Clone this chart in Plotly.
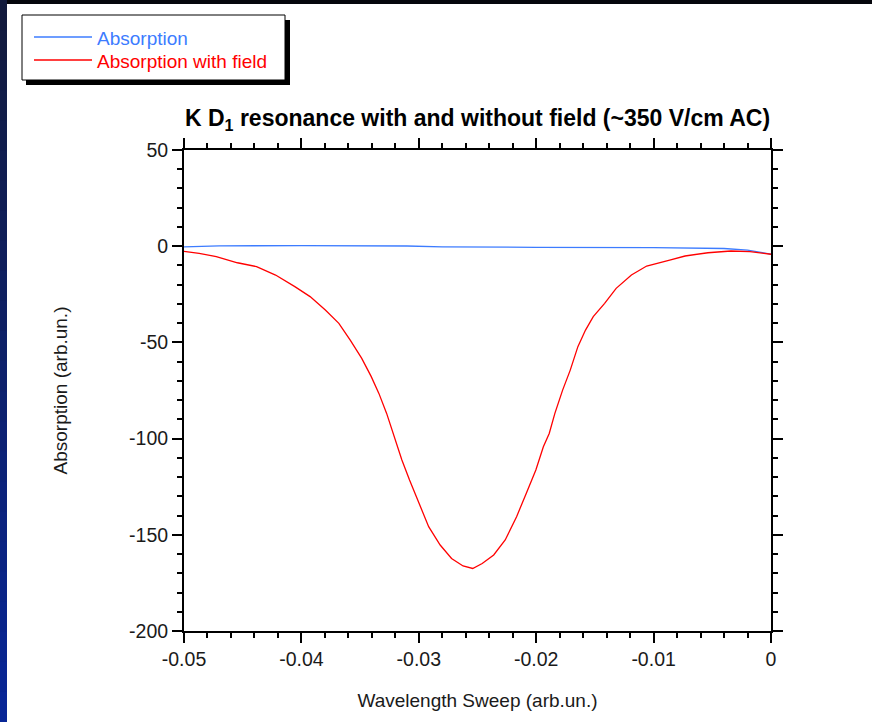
import plotly.graph_objects as go

# ---------------- data ----------------
sweep_no_field = [-0.0500, -0.0470, -0.0400, -0.0330, -0.0310, -0.0280, -0.0240,
                  -0.0200, -0.0100, -0.0060, -0.0040, -0.0020, -0.0010, 0.0]
absorption_no_field = [-0.3, 0.2, 0.3, 0.3, 0.1, -0.3, -0.5,
                       -0.6, -0.7, -0.9, -1.2, -2.0, -3.0, -4.1]

sweep_field = [-0.05000, -0.04985, -0.04871, -0.04725, -0.04545, -0.04382, -0.04220,
               -0.04056, -0.03926, -0.03796, -0.03681, -0.03584, -0.03486, -0.03405,
               -0.03340, -0.03274, -0.03210, -0.03144, -0.03079, -0.02997, -0.02916,
               -0.02818, -0.02721, -0.02623, -0.02541, -0.02460, -0.02362, -0.02264,
               -0.02167, -0.02085, -0.02003, -0.01939, -0.01889, -0.01841, -0.01775,
               -0.01710, -0.01645, -0.01580, -0.01514, -0.01417, -0.01319, -0.01189,
               -0.01059, -0.00863, -0.00732, -0.00537, -0.00341, -0.00179, -0.00016, 0.0]
absorption_field = [-2.7, -2.8, -3.7, -5.4, -8.6, -10.6, -15.0,
                    -21.0, -26.2, -33.2, -40.1, -48.8, -58.3, -67.8,
                    -76.5, -86.9, -99.0, -111.1, -121.5, -133.7, -145.8,
                    -155.3, -162.3, -166.2, -167.5, -164.9, -160.5, -152.7,
                    -140.6, -128.5, -116.3, -104.2, -97.3, -86.9, -74.8,
                    -64.4, -52.2, -43.6, -36.6, -29.7, -21.9, -15.0,
                    -10.3, -7.2, -5.1, -3.4, -2.5, -2.8, -4.1, -4.2]

series_names = ["Absorption", "Absorption with field"]
series_colors = ["#3d7cff", "#ff0000"]

x_tick_vals = [-0.05, -0.04, -0.03, -0.02, -0.01, 0.0]
x_tick_labels = ["-0.05", "-0.04", "-0.03", "-0.02", "-0.01", "0"]
y_tick_vals = [50, 0, -50, -100, -150, -200]
y_tick_labels = ["50", "0", "-50", "-100", "-150", "-200"]

title_text = "K D<sub>1</sub> resonance with and without field (~350 V/cm AC)"
x_title = "Wavelength Sweep (arb.un.)"
y_title = "Absorption (arb.un.)"

# ---------------- layout geometry ----------------
W, H = 872, 722
L, R, T, B = 184, 101, 150, 91
PW, PH = W - L - R, H - T - B


def xp(px):
    return (px - L) / PW


def yp(py):
    return (H - B - py) / PH


FONT = "Liberation Sans, Arial, sans-serif"

fig = go.Figure()
fig.add_trace(go.Scatter(x=sweep_no_field, y=absorption_no_field, mode="lines",
                         name=series_names[0],
                         line=dict(color=series_colors[0], width=1.3)))
fig.add_trace(go.Scatter(x=sweep_field, y=absorption_field, mode="lines",
                         name=series_names[1],
                         line=dict(color=series_colors[1], width=1.3)))

shapes = []
# dark slide background strips
shapes.append(dict(type="rect", xref="paper", yref="paper",
                   x0=xp(0), x1=xp(W), y0=yp(0), y1=yp(4),
                   fillcolor="#05060c", line=dict(width=0)))
n_seg = 24
c_top = (18, 26, 60)
c_bot = (8, 38, 150)
for i in range(n_seg):
    t = i / (n_seg - 1)
    col = "rgb(%d,%d,%d)" % tuple(round(a + (b - a) * t) for a, b in zip(c_top, c_bot))
    shapes.append(dict(type="rect", xref="paper", yref="paper",
                       x0=xp(0), x1=xp(7),
                       y0=yp(H * i / n_seg), y1=yp(H * (i + 1) / n_seg + 1),
                       fillcolor=col, line=dict(width=0)))

# legend box with drop shadow
shapes.append(dict(type="rect", xref="paper", yref="paper",
                   x0=xp(26), x1=xp(290), y0=yp(85), y1=yp(20),
                   fillcolor="black", line=dict(width=0)))
shapes.append(dict(type="rect", xref="paper", yref="paper",
                   x0=xp(22), x1=xp(285), y0=yp(80), y1=yp(15),
                   fillcolor="white", line=dict(color="black", width=1)))
legend_rows = [37, 60]
annotations = []
for name, col, row in zip(series_names, series_colors, legend_rows):
    shapes.append(dict(type="line", xref="paper", yref="paper",
                       x0=xp(34), x1=xp(92), y0=yp(row), y1=yp(row),
                       line=dict(color=col, width=1.3)))
    annotations.append(dict(xref="paper", yref="paper", x=xp(95), y=yp(row + 1),
                            xanchor="left", yanchor="middle", showarrow=False,
                            text=name, font=dict(family=FONT, size=19, color=col)))

axis_common = dict(
    showgrid=False, zeroline=False,
    showline=True, linecolor="black", linewidth=2,
    mirror="allticks", ticks="outside", ticklen=10, tickwidth=2, tickcolor="black",
    tickfont=dict(family=FONT, size=19.5, color="#1a1a1a"),
)

fig.update_layout(
    width=W, height=H,
    margin=dict(l=L, r=R, t=T, b=B, autoexpand=False),
    paper_bgcolor="white", plot_bgcolor="white",
    showlegend=False,
    title=dict(text=title_text, x=(L + PW / 2) / W, xanchor="center",
               y=1 - 118 / H, yanchor="middle", yref="container",
               font=dict(family=FONT, size=23, color="black", weight="bold")),
    xaxis=dict(range=[-0.05, 0.0], tickmode="array", tickvals=x_tick_vals,
               ticktext=x_tick_labels,
               minor=dict(tickmode="linear", tick0=-0.05, dtick=0.002, ticks="outside",
                          ticklen=5, tickwidth=2, tickcolor="black"),
               title=dict(text=x_title, standoff=24,
                          font=dict(family=FONT, size=19, color="#1a1a1a")),
               **axis_common),
    yaxis=dict(range=[-200, 50], tickmode="array", tickvals=y_tick_vals,
               ticktext=y_tick_labels,
               minor=dict(tickmode="linear", tick0=-200, dtick=10, ticks="outside",
                          ticklen=5, tickwidth=2, tickcolor="black"),
               title=dict(text=y_title, standoff=56,
                          font=dict(family=FONT, size=19, color="#1a1a1a")),
               **axis_common),
    shapes=shapes,
    annotations=annotations,
)

fig.write_html("out.html",
               config={"displayModeBar": False},
               post_script="document.body.style.margin='0';"
                           "document.body.style.overflow='hidden';")
